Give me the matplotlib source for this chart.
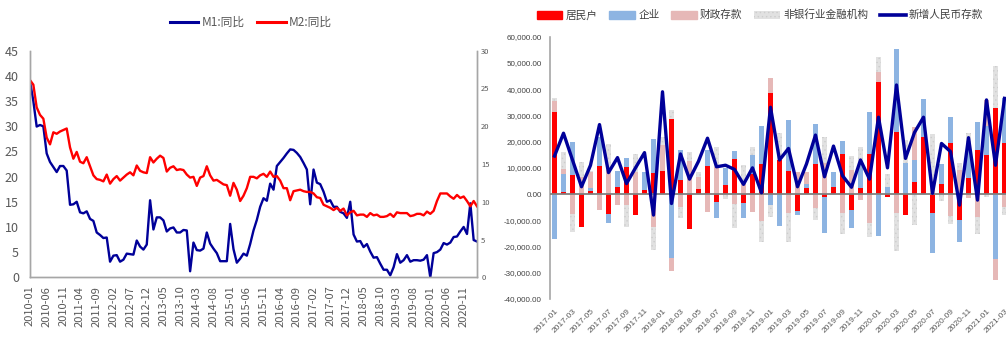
import numpy as np
import pandas as pd
import matplotlib
matplotlib.use("Agg")
import matplotlib.pyplot as plt
from matplotlib.ticker import FuncFormatter, MultipleLocator
from matplotlib.patches import Patch
from matplotlib.lines import Line2D

plt.rcParams['font.family'] = ['Noto Sans CJK SC', 'DejaVu Sans']
plt.rcParams['hatch.linewidth'] = 0.5

# ---- left chart: M1 / M2 yoy, 2010-01 .. 2021-03
m1_yoy = [38.96, 34.99, 29.94, 30.25, 29.98, 24.6, 22.9, 21.9, 20.9, 22.1, 22.1, 21.2,
          14.4, 14.5, 15.0, 12.9, 12.7, 13.1, 11.6, 11.2, 8.9, 8.4, 7.8, 7.9,
          3.1, 4.3, 4.4, 3.1, 3.5, 4.7, 4.6, 4.5, 7.3, 6.1, 5.5, 6.5,
          15.3, 9.5, 11.9, 11.9, 11.3, 9.1, 9.7, 9.9, 8.9, 8.9, 9.4, 9.3,
          1.2, 6.9, 5.4, 5.3, 5.7, 8.9, 6.7, 5.7, 4.8, 3.2, 3.2, 3.2,
          10.6, 5.6, 2.9, 3.7, 4.7, 4.3, 6.6, 9.3, 11.4, 14.0, 15.7, 15.2,
          18.6, 17.4, 22.1, 22.9, 23.7, 24.6, 25.4, 25.3, 24.7, 23.9, 22.7, 21.4,
          14.5, 21.4, 18.8, 18.5, 17.0, 15.0, 15.3, 14.0, 14.0, 13.0, 12.7, 11.8,
          15.0, 8.5, 7.1, 7.2, 6.0, 6.6, 5.1, 3.9, 4.0, 2.7, 1.5, 1.5,
          0.4, 2.0, 4.6, 2.9, 3.4, 4.4, 3.1, 3.4, 3.4, 3.3, 3.5, 4.4,
          0.0, 4.8, 5.0, 5.5, 6.8, 6.5, 6.9, 8.0, 8.1, 9.1, 10.0, 8.6,
          14.7, 7.4, 7.1]
m2_yoy = [26.1, 25.5, 22.5, 21.5, 21.0, 18.5, 17.6, 19.2, 19.0, 19.3, 19.5, 19.7,
          17.2, 15.7, 16.6, 15.3, 15.1, 15.9, 14.7, 13.5, 13.0, 12.9, 12.7, 13.6,
          12.4, 13.0, 13.4, 12.8, 13.2, 13.6, 13.9, 13.5, 14.8, 14.1, 13.9, 13.8,
          15.9, 15.2, 15.7, 16.1, 15.8, 14.0, 14.5, 14.7, 14.2, 14.3, 14.2, 13.6,
          13.2, 13.3, 12.1, 13.2, 13.4, 14.7, 13.5, 12.8, 12.9, 12.6, 12.3, 12.2,
          10.8, 12.5, 11.6, 10.1, 10.8, 11.8, 13.3, 13.3, 13.1, 13.5, 13.7, 13.3,
          14.0, 13.3, 13.4, 12.8, 11.8, 11.8, 10.2, 11.4, 11.5, 11.6, 11.4, 11.3,
          11.3, 11.1, 10.6, 10.5, 9.6, 9.4, 9.2, 8.9, 9.2, 8.8, 9.1, 8.2,
          8.6, 8.8, 8.2, 8.3, 8.3, 8.0, 8.5, 8.2, 8.3, 8.0, 8.0, 8.1,
          8.4, 8.0, 8.6, 8.5, 8.5, 8.5, 8.1, 8.2, 8.4, 8.4, 8.2, 8.7,
          8.4, 8.8, 10.1, 11.1, 11.1, 11.1, 10.7, 10.4, 10.9, 10.5, 10.7, 10.1,
          9.4, 10.1, 9.4]
months_left = pd.period_range('2010-01', periods=len(m1_yoy), freq='M').strftime('%Y-%m').tolist()

# ---- right chart: new RMB deposits by sector, 2017-01 .. 2021-03 (100m yuan)
months_right = pd.period_range('2017-01', '2021-03', freq='M').strftime('%Y-%m').tolist()
household = [31400, 800, 7300, -12500, 1000, 10800, -7500, 2800, 10300, -8100, 1500, 7900,
             8800, 28600, 5300, -13200, 1900, 10800, -3200, 3300, 13200, -3300, 7600, 11500,
             38700, 13000, 8800, -6400, 2400, 11500, -1000, 2800, 15300, -6100, 2400, 15300,
             42600, -1300, 23500, -8000, 4700, 21600, -7100, 3800, 19300, -9700, 6200, 16800,
             14900, 32700, 19300]
enterprise = [-17300, 6800, 12700, 0, 1300, 11000, -3700, 6100, 3600, 0, 7000, 13100,
              0, -24300, 11500, 0, 0, 6000, -5800, 6700, 3100, -6000, 7300, 14500,
              -4000, -12100, 19400, -1600, 1300, 15200, -14000, 5700, 4900, -7000, 9000, 16100,
              -15900, 2800, 31800, 12000, 8300, 14500, -15500, 7700, 10200, -8500, 10600, 10800,
              11000, -24600, 17200]
fiscal = [4200, 1900, -7500, 6500, 6200, -6100, 9000, -4000, -4300, 8500, 0, -12500,
          9900, -5000, -4800, 12600, 4500, -7000, 10400, 0, -3600, 4000, -6700, -10300,
          5400, 0, -7100, 8600, 4800, -5200, 11700, 0, -7100, 9000, -2300, -10900,
          3800, 0, -7100, 0, 12700, 0, 5000, 0, -8400, 9000, -1400, -8700,
          10000, -8000, -4800]
nonbank = [900, 6700, -7000, 5800, 400, 0, 10000, 0, -8300, 6800, 0, -8900,
           3000, 3500, -4200, 3600, 2000, 0, 7600, -2000, -9200, 7000, 3000, -7900,
           -4900, 10400, -11300, 0, 0, -4700, 9900, 0, -8200, 5500, 6600, -5400,
           5800, 4800, -14500, 8600, -11600, 0, 17900, -2500, -3100, 2800, 6300, -6600,
           -1000, 16200, -3200]
new_deposits = [14500, 23200, 13000, 2800, 11000, 26500, 8200, 13900, 4000, 10000, 15800, -8000,
                39000, -3600, 15300, 5700, 12500, 21300, 10400, 11000, 9400, 3700, 10000, 500,
                33100, 13000, 17400, 2800, 11500, 22500, 6600, 18300, 7000, 2600, 13000, 5700,
                29300, 10000, 41600, 13600, 23500, 29300, 300, 19300, 16200, -4200, 21500, -2300,
                35900, 11000, 36500]

navy = '#000099'
tick_grey = '#595959'
spine_grey = '#a6a6a6'

fig = plt.figure(figsize=(10.06, 3.38), dpi=100)
W, H = 1006, 338

# ---------------- left
ax1 = fig.add_axes([30 / W, 1 - 277.3 / H, 447 / W, 226.6 / H])
x = np.arange(len(m1_yoy))
ax1.plot(x, m1_yoy, color=navy, lw=1.7)
ax1.set_xlim(0, len(m1_yoy) - 1)
ax1.set_ylim(0, 45)
ax1.yaxis.set_major_locator(MultipleLocator(5))
ax1.set_xticks(x[::5])
ax1.set_xticklabels(months_left[::5], rotation=90)
ax1.tick_params(axis='x', length=0, pad=6, labelsize=8, colors=tick_grey)
ax1.tick_params(axis='y', length=0, pad=8, labelsize=9, colors=tick_grey)

ax2 = ax1.twinx()
ax2.plot(x, m2_yoy, color='#ff0000', lw=1.7)
ax2.set_ylim(0, 30)
ax2.yaxis.set_major_locator(MultipleLocator(5))
ax2.tick_params(axis='y', length=0, pad=3, labelsize=5.5, colors=tick_grey)
for a in (ax1, ax2):
    a.spines['top'].set_visible(False)
    for s in ('left', 'right', 'bottom'):
        a.spines[s].set_color(spine_grey)
        a.spines[s].set_linewidth(1.0)

fig.legend(handles=[Line2D([], [], color=navy, lw=2.2), Line2D([], [], color='#ff0000', lw=2.2)],
           labels=['M1:同比', 'M2:同比'], loc='center', bbox_to_anchor=(251 / W, 1 - 22.5 / H),
           ncol=2, frameon=False, fontsize=8.5, handlelength=2.4, handletextpad=0.25,
           columnspacing=1.1, labelcolor=tick_grey)

# ---------------- right
ax3 = fig.add_axes([550 / W, 1 - 299 / H, 459 / W, 262.3 / H])
xr = np.arange(len(months_right))
series = [(household, '#ff0000', None, '#ff0000'),
          (enterprise, '#8db4e2', None, '#8db4e2'),
          (fiscal, '#e6b8b7', None, '#e6b8b7'),
          (nonbank, '#e1e1e1', '....', '#cdcdcd')]
pos_base = np.zeros(len(xr))
neg_base = np.zeros(len(xr))
for vals, fc, hatch, ec in series:
    v = np.array(vals, dtype=float)
    bottom = np.where(v >= 0, pos_base, neg_base)
    ax3.bar(xr, v, width=0.45, bottom=bottom, color=fc, hatch=hatch, edgecolor=ec, linewidth=0)
    pos_base += np.where(v >= 0, v, 0)
    neg_base += np.where(v < 0, v, 0)
ax3.axhline(0, color='#808080', lw=1.3, zorder=3)
ax3.plot(xr, new_deposits, color=navy, lw=2.4, zorder=4)
ax3.set_xlim(-0.5, len(xr) - 0.5)
ax3.set_ylim(-40000, 60000)
ax3.yaxis.set_major_locator(MultipleLocator(10000))
ax3.yaxis.set_major_formatter(FuncFormatter(lambda v, p: f"{v:,.2f}"))
ax3.set_xticks(xr[::2])
ax3.set_xticklabels(months_right[::2], rotation=45, ha='right', rotation_mode='anchor',
                    family=['Liberation Sans', 'DejaVu Sans'])
ax3.tick_params(axis='x', length=0, pad=6, labelsize=6, colors=tick_grey)
ax3.tick_params(axis='y', length=0, pad=6, labelsize=5.8, colors='#404040')
for lab in ax3.get_yticklabels():
    lab.set_family(['Liberation Sans', 'DejaVu Sans'])
for s in ('top', 'right', 'bottom'):
    ax3.spines[s].set_visible(False)
ax3.spines['left'].set_color(spine_grey)
ax3.spines['left'].set_linewidth(1.2)

handles = [Patch(color='#ff0000'), Patch(color='#8db4e2'), Patch(color='#e6b8b7'),
           Patch(facecolor='#e1e1e1', hatch='....', edgecolor='#cdcdcd', linewidth=0),
           Line2D([], [], color=navy, lw=2.6)]
labels = ['居民户', '企业', '财政存款', '非银行业金融机构', '新增人民币存款']
fig.legend(handles=handles, labels=labels, loc='center', bbox_to_anchor=(760 / W, 1 - 15 / H),
           ncol=5, frameon=False, fontsize=7.7, handlelength=2.4, handleheight=0.75,
           handletextpad=0.3, columnspacing=1.1, labelcolor='#404040')

fig.savefig('out.png', dpi=100)
